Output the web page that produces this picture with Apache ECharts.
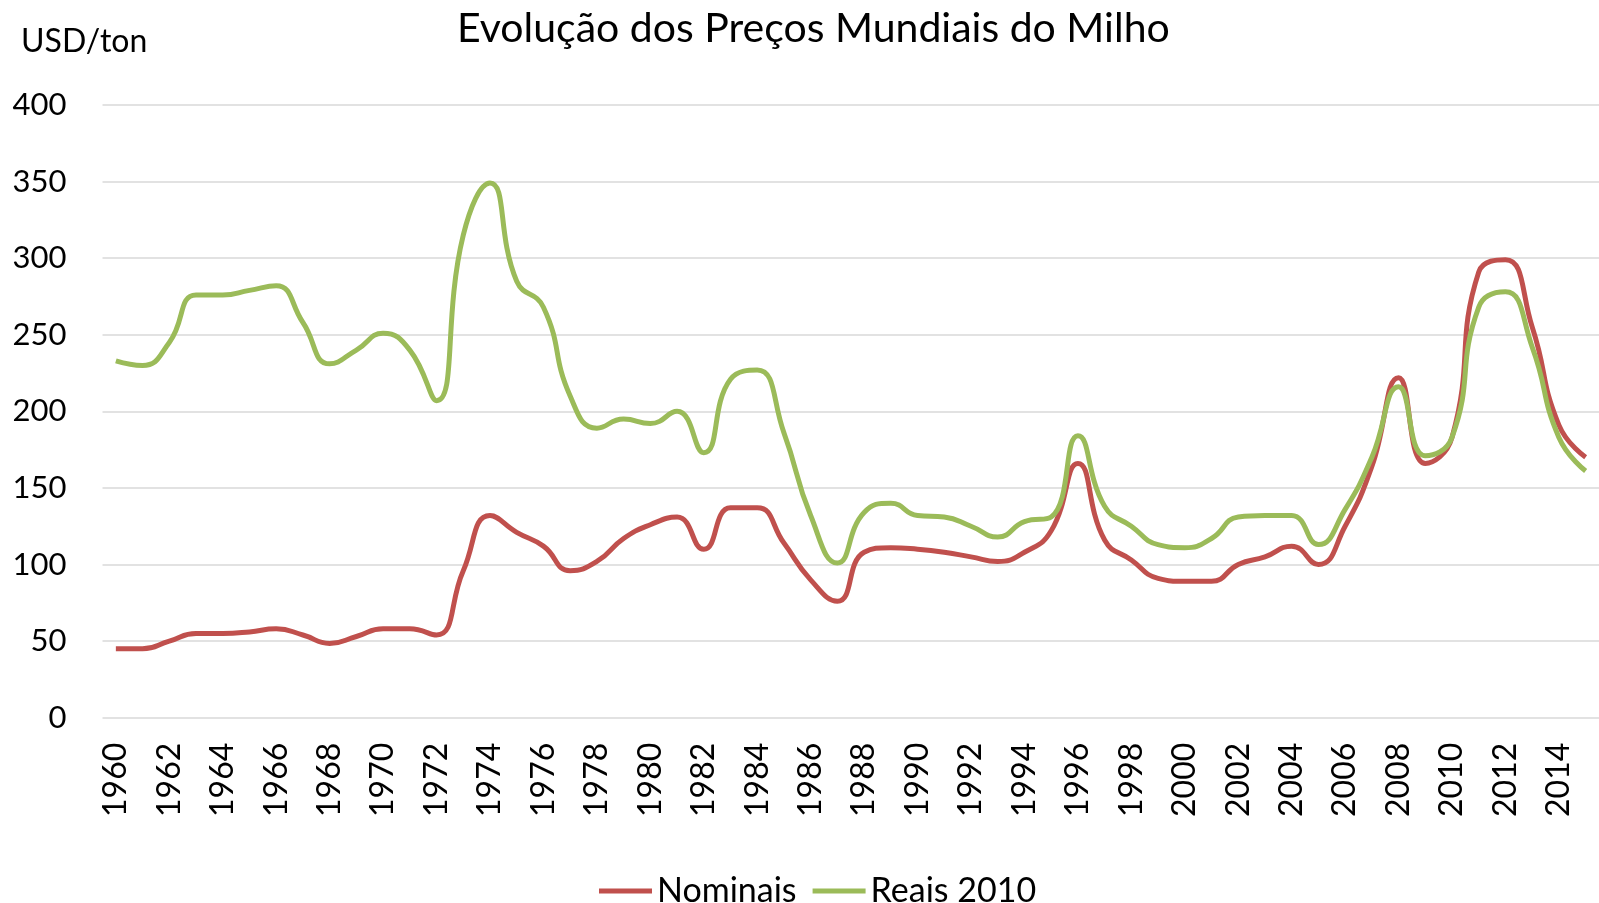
<!DOCTYPE html>
<html>
<head>
<meta charset="UTF-8">
<script src="https://cdn.jsdelivr.net/npm/echarts@6/dist/echarts.min.js"></script>
<style>
  html, body { margin: 0; padding: 0; background: #fff; }
  #chart { width: 1599px; height: 903px; }
</style>
</head>
<body>
<div id="chart"></div>
<script>
var years = [];
for (var y = 1960; y <= 2015; y++) years.push(String(y));

// USD/ton, valores
var nominais = [45, 45, 50, 55, 55, 56, 58, 54, 48.5, 53, 58, 58, 54, 96, 132, 121, 112, 96, 102, 117,
  126, 131, 110, 137, 137, 114, 90, 76, 108, 111, 110, 108, 105, 102, 108, 122, 166, 116, 103, 91,
  89, 89, 100, 105, 112, 100, 125, 164, 222, 166, 183, 291, 299, 255, 191, 170];
var reais2010 = [233, 230, 245, 276, 276, 279, 282, 258, 231, 240, 251, 240, 207, 315, 349, 285, 268, 210, 189, 195,
  192, 200, 173, 221, 227, 186, 132, 101, 134, 140, 132, 131, 125, 118, 128, 131, 184, 138, 125, 113,
  111, 117, 131, 132, 132, 113, 136, 170, 216, 171, 183, 268, 278, 242, 183, 161];

var font = 'Lato';
var chart = echarts.init(document.getElementById('chart'));
chart.setOption({
  animation: false,
  textStyle: { fontFamily: font, color: '#000' },
  title: [
    { text: 'Evolução dos Preços Mundiais do Milho', left: 452, top: 3,
      textStyle: { fontFamily: font, fontSize: 41, fontWeight: 'normal', color: '#000' } },
    { text: 'USD/ton', left: 16, top: 21,
      textStyle: { fontFamily: font, fontSize: 32, fontWeight: 'normal', color: '#000' } }
  ],
  legend: {
    top: 869, left: 594,
    icon: 'rect', itemWidth: 53, itemHeight: 5, itemGap: 16,
    textStyle: { fontFamily: font, fontSize: 34, color: '#000' },
    data: ['Nominais', 'Reais 2010']
  },
  grid: { left: 102.5, right: -10.5, top: 105, bottom: 185.3 },
  xAxis: {
    type: 'category', data: years, boundaryGap: true,
    axisLine: { show: false }, axisTick: { show: false },
    axisLabel: { rotate: 90, interval: 1, margin: 25, fontSize: 32, color: '#000', fontFamily: font }
  },
  yAxis: {
    type: 'value', min: 0, max: 400, interval: 50,
    axisLine: { show: false }, axisTick: { show: false },
    axisLabel: { margin: 36, fontSize: 31, color: '#000', fontFamily: font },
    splitLine: { lineStyle: { color: '#d9d9d9', width: 1.5 } }
  },
  series: [
    { name: 'Nominais', type: 'line', data: nominais, smooth: 0.5, showSymbol: false,
      itemStyle: { color: '#C0504D' }, lineStyle: { color: '#C0504D', width: 5 } },
    { name: 'Reais 2010', type: 'line', data: reais2010, smooth: 0.5, showSymbol: false,
      itemStyle: { color: '#9BBB59' }, lineStyle: { color: '#9BBB59', width: 5 } }
  ]
});
</script>
</body>
</html>
